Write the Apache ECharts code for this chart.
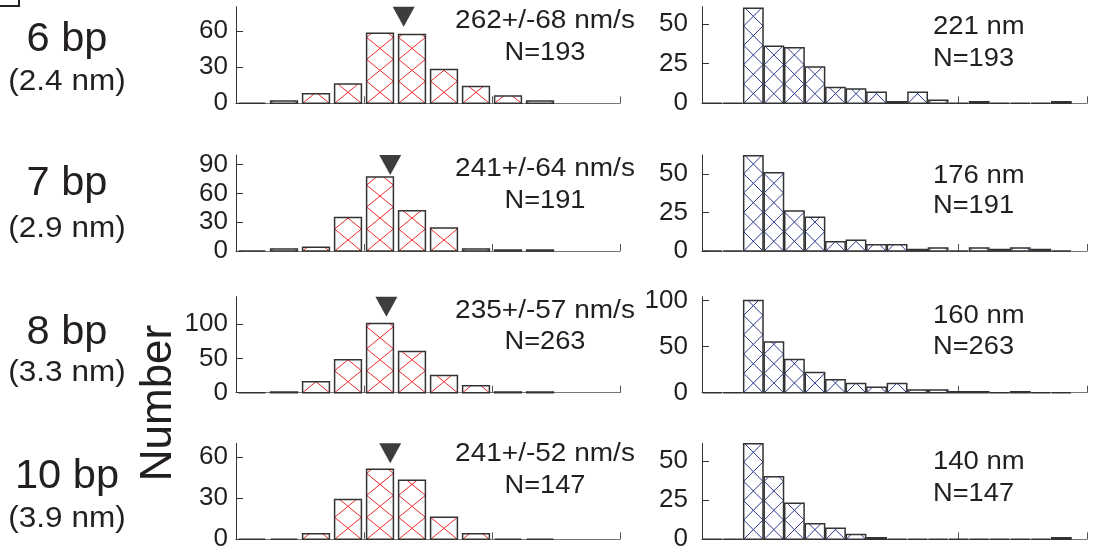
<!DOCTYPE html>
<html><head><meta charset="utf-8">
<script src="https://cdn.jsdelivr.net/npm/echarts@6/dist/echarts.min.js"></script>
<style>html,body{margin:0;padding:0;background:#fff}#c{width:1099px;height:552px}</style>
</head><body><div id="c"></div>
<script>
// ---- data ----
const rowLabels = ['6 bp', '7 bp', '8 bp', '10 bp'];
const rowSubLabels = ['(2.4 nm)', '(2.9 nm)', '(3.3 nm)', '(3.9 nm)'];
const speedText = ['262+/-68 nm/s', '241+/-64 nm/s', '235+/-57 nm/s', '241+/-52 nm/s'];
const countText = ['N=193', 'N=191', 'N=263', 'N=147'];
const runText = ['221 nm', '176 nm', '160 nm', '140 nm'];
const speedMeans = [262, 241, 235, 241];
const speedBinWidth = 50;   // nm/s
const runBinWidth = 80;     // nm
const speed6 = [0, 2, 8, 16, 58, 57, 28, 14, 6, 2];
const speed7 = [0, 2, 4, 35, 77, 42, 24, 2, 1, 1];
const speed8 = [0, 1, 16, 48, 101, 60, 25, 10, 1, 1];
const speed10 = [0, 0, 4, 29, 51, 43, 16, 4, 0, 0];
const run6 = [0, 0, 60, 36, 35, 23, 10, 9, 7, 1, 7, 2, 0, 1, 0, 0, 0, 1];
const run7 = [0, 0, 62, 51, 26, 22, 6, 7, 4, 4, 1, 2, 0, 2, 1, 2, 1, 0];
const run8 = [0, 0, 100, 55, 36, 22, 14, 10, 6, 10, 3, 3, 1, 1, 0, 1, 0, 0];
const run10 = [0, 0, 61, 40, 23, 10, 7, 3, 1, 0, 0, 0, 0, 0, 0, 0, 0, 1];
const speedYTicks = [[0, 30, 60], [0, 30, 60, 90], [0, 50, 100], [0, 30, 60]];
const runYTicks = [[0, 25, 50], [0, 25, 50], [0, 50, 100], [0, 25, 50]];
const speedXTicks = [200, 400, 600];
const runXTicks = [500, 1000, 1500];

// ---- layout ----
const speedSets = [speed6, speed7, speed8, speed10];
const runSets = [run6, run7, run8, run10];
const gridTop = [6.7, 155, 296.7, 443.3];
const gridH = [96.6, 96, 96, 96];
const speedMax = [80, 100, 140, 70];
const runMax = [61, 62.5, 104, 61.3];
const FONT = '"Liberation Sans", Arial, Helvetica, sans-serif';
const TXT = '#231f20';

function makeRender(binW, inset, ratio, color) {
  return function (params, api) {
    const s = api.value(0), v = api.value(1);
    const a = api.coord([s, 0]), b = api.coord([s + binW, v]);
    const x0 = a[0] + inset, x1 = b[0] - inset, yb = a[1], yt = b[1];
    const w = x1 - x0, h = w * ratio;
    const kids = [{ type: 'rect', shape: { x: x0, y: yt, width: w, height: yb - yt }, style: { fill: '#fff' } }];
    for (let k = 0; yb - k * h > yt + 0.5; k++) {
      const ys = yb - k * h;
      const t = Math.min(1, (ys - yt) / h);
      kids.push({ type: 'line', shape: { x1: x0, y1: ys, x2: x0 + t * w, y2: ys - t * h }, style: { stroke: color, lineWidth: 1, fill: 'none' } });
      kids.push({ type: 'line', shape: { x1: x1, y1: ys, x2: x1 - t * w, y2: ys - t * h }, style: { stroke: color, lineWidth: 1, fill: 'none' } });
    }
    kids.push({ type: 'rect', shape: { x: x0, y: yt, width: w, height: yb - yt }, style: { fill: 'none', stroke: '#333', lineWidth: 1.5 } });
    return { type: 'group', children: kids };
  };
}

const grids = [], xAxes = [], yAxes = [], series = [], graphics = [];
function axisPair(gi, xmax, xticks, ymax, yticks, labelMargin) {
  xAxes.push({
    type: 'value', gridIndex: gi, min: 0, max: xmax,
    axisLine: { show: true, lineStyle: { color: '#777', width: 1.2 } },
    axisTick: { show: true, inside: true, length: 7, customValues: xticks, lineStyle: { color: '#555' } },
    axisLabel: { show: false }, splitLine: { show: false }
  });
  yAxes.push({
    type: 'value', gridIndex: gi, min: 0, max: ymax,
    axisLine: { show: true, lineStyle: { color: '#333', width: 1 } },
    axisTick: { show: true, inside: true, length: 7, customValues: yticks, lineStyle: { color: '#333' } },
    axisLabel: { show: true, customValues: yticks, fontSize: 26, fontFamily: FONT, color: TXT, margin: labelMargin },
    splitLine: { show: false }
  });
}

for (let r = 0; r < 4; r++) {
  // left: speed histogram
  const gl = grids.length;
  grids.push({ left: 236, width: 384, top: gridTop[r], height: gridH[r], outerBoundsMode: 'none' });
  axisPair(gl, speedBinWidth * 12, speedXTicks, speedMax[r], speedYTicks[r], 8);
  series.push({
    type: 'custom', xAxisIndex: gl, yAxisIndex: gl, clip: false,
    renderItem: makeRender(speedBinWidth, 2.6, 0.82, '#ec2a2f'),
    data: speedSets[r].map((v, i) => [i * speedBinWidth, v])
  });
  series.push({
    type: 'scatter', xAxisIndex: gl, yAxisIndex: gl, clip: false, z: 10,
    symbol: 'path://M0,0 L2,0 L1,2 Z', symbolSize: [22, 20], symbolOffset: [0, '50%'],
    itemStyle: { color: '#0d0d0d' }, silent: true,
    data: [[speedMeans[r], speedMax[r]]]
  });
  // right: run length histogram
  const gr = grids.length;
  grids.push({ left: 702, width: 385, top: gridTop[r], height: gridH[r], outerBoundsMode: 'none' });
  axisPair(gr, 1500, runXTicks, runMax[r], runYTicks[r], 14);
  series.push({
    type: 'custom', xAxisIndex: gr, yAxisIndex: gr, clip: false,
    renderItem: makeRender(runBinWidth, 0.6, 1.0, '#2b3990'),
    data: runSets[r].map((v, i) => [i * runBinWidth, v])
  });
}

// text annotations
const bigY = [40, 184, 333, 477];
const subY = [82, 229, 373, 519];
const spY1 = [21, 169.5, 311, 454];
const spY2 = [53, 201, 342.5, 486];
const rnY1 = [27.5, 176, 316, 462.5];
const rnY2 = [59, 206, 347, 494];
function txt(text, x, y, size, align, sx, rot) {
  graphics.push({
    type: 'text', x: x, y: y, rotation: rot || 0, scaleX: sx || 1, z: 100,
    style: { text: text, font: size + 'px ' + FONT, fill: TXT, align: align, verticalAlign: 'middle',
             textAlign: align, textVerticalAlign: 'middle' }
  });
}
for (let r = 0; r < 4; r++) {
  txt(rowLabels[r], 67, bigY[r], 40, 'center', 1.04);
  txt(rowSubLabels[r], 67, subY[r], 30, 'center', 1.05);
  txt(speedText[r], 545, spY1[r], 25, 'center', 1.12);
  txt(countText[r], 545, spY2[r], 25, 'center', 1.09);
  txt(runText[r], 933, rnY1[r], 25, 'left', 1.1);
  txt(countText[r], 933, rnY2[r], 25, 'left', 1.09);
}
txt('Number', 159, 403, 44, 'center', 1, Math.PI / 2);
graphics.push({ type: 'polyline', shape: { points: [[0, 6], [19, 6], [19, 0]] }, style: { stroke: '#222', lineWidth: 2, fill: 'none' } });

const chart = echarts.init(document.getElementById('c'), null, { renderer: 'canvas' });
chart.setOption({
  animation: false,
  backgroundColor: '#fff',
  grid: grids, xAxis: xAxes, yAxis: yAxes, series: series, graphic: graphics
});
</script></body></html>
